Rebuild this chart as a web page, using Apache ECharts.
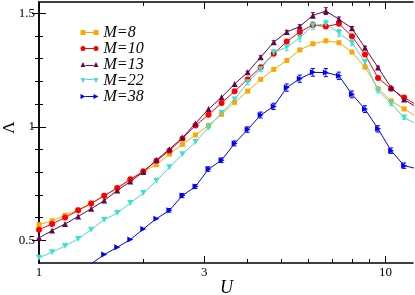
<!DOCTYPE html>
<html><head><meta charset="utf-8">
<script src="https://cdn.jsdelivr.net/npm/echarts@6/dist/echarts.min.js"></script>
<style>html,body{margin:0;padding:0;background:#fff}#c{width:415px;height:295px}</style>
</head><body><div id="c"></div>
<script>
const U = [1, 1.0905, 1.1892, 1.2968, 1.4142, 1.5422, 1.6818, 1.8340, 2, 2.1810, 2.3784, 2.5937, 2.8284, 3.0844, 3.3636, 3.6680, 4, 4.3620, 4.7568, 5.1874, 5.6569, 6.1688, 6.7272, 7.3360, 8, 8.7241, 9.5137, 10.3747, 11.3137, 12.3377];
const lamM8  = [0.569,0.586,0.610,0.633,0.664,0.696,0.730,0.766,0.803,0.833,0.880,0.923,0.964,1.006,1.055,1.108,1.157,1.209,1.253,1.292,1.339,1.366,1.379,1.371,1.329,1.263,1.168,1.114,1.079,1.043];
const lamM10 = [0.547,0.572,0.600,0.632,0.662,0.696,0.730,0.769,0.804,0.850,0.895,0.949,1.006,1.053,1.105,1.157,1.209,1.263,1.322,1.376,1.418,1.449,1.442,1.454,1.399,1.319,1.215,1.168,1.129,1.095];
const lamM13 = [0.511,0.543,0.572,0.605,0.639,0.675,0.719,0.759,0.801,0.854,0.901,0.952,1.015,1.078,1.130,1.189,1.240,1.307,1.373,1.418,1.442,1.491,1.510,1.474,1.434,1.348,1.261,1.173,1.120,1.085];
const lamM22 = [0.423,0.447,0.475,0.506,0.547,0.591,0.620,0.664,0.708,0.762,0.822,0.879,0.933,0.998,1.062,1.120,1.196,1.254,1.328,1.351,1.392,1.446,1.454,1.414,1.370,1.285,1.160,1.103,1.041,1.010];
const lamM38 = [null,null,null,null,0.396,0.437,0.469,0.503,0.550,0.595,0.632,0.697,0.737,0.814,0.853,0.927,0.988,1.052,1.090,1.173,1.212,1.240,1.239,1.225,1.143,1.078,0.991,0.895,0.829,0.815];
const errM13 = [0,0,0,0,0,0,0,0,0,0,0,0,0,0,0,0,0.005,0.006,0.006,0.007,0.008,0.012,0.015,0.010,0.008,0.007,0.006,0.005,0.005,0.005];
const errM22 = [0,0,0,0,0,0,0,0,0,0,0,0,0,0.008,0.009,0.010,0.010,0.011,0.012,0.015,0.015,0.017,0.016,0.015,0.012,0.012,0.010,0.009,0.008,0.008];
const errM38 = [0,0,0,0,0,0,0,0,0,0,0.008,0.009,0.009,0.010,0.010,0.011,0.012,0.013,0.014,0.016,0.016,0.017,0.018,0.016,0.015,0.015,0.014,0.012,0.012,0.012];
const names = ['M=8','M=10','M=13','M=22','M=38'];
const colors = ['#FFA500','#FF0000','#67074A','#40E0D0','#0000FF'];
const xMajorTicks = [1, 3, 10];
const xMinorTicks = [2, 4, 5, 6, 7, 8, 9];
const yMajorTicks = [0.5, 1, 1.5];
const yMinorTicks = [0.6, 0.7, 0.8, 0.9, 1.1, 1.2, 1.3, 1.4];
const xTitle = 'U', yTitle = 'Λ';
const xMin = 1, xMax = 12, yMin = 0.4, yMax = 1.55;

const chart = echarts.init(document.getElementById('c'), null, {renderer: 'canvas'});
const serif = 'Liberation Serif, Times New Roman, serif';
const lx = v => Math.log10(v);

function tickX(pos, vals, len, withLine, withLabel) {
  return {
    type: 'value', position: pos, min: lx(xMin), max: lx(xMax),
    axisLine: {show: withLine, lineStyle: {color: '#000', width: 1.5}},
    axisTick: {show: true, inside: true, length: len, customValues: vals.map(lx), lineStyle: {color: '#000', width: 1}},
    axisLabel: withLabel ? {show: true, customValues: vals.map(lx), formatter: v => String(Math.round(Math.pow(10, v))), fontFamily: serif, fontSize: 13, color: '#000', margin: 3} : {show: false},
    splitLine: {show: false}
  };
}
function tickY(pos, vals, len, withLine, withLabel) {
  return {
    type: 'value', position: pos, min: yMin, max: yMax,
    axisLine: {show: withLine, lineStyle: {color: '#000', width: 1.5}},
    axisTick: {show: true, inside: true, length: len, customValues: vals, lineStyle: {color: '#000', width: 1}},
    axisLabel: withLabel ? {show: true, customValues: vals, fontFamily: serif, fontSize: 13, color: '#000', margin: 4} : {show: false},
    splitLine: {show: false}
  };
}

const symbols = ['rect', 'circle', 'triangle', 'triangle', 'triangle'];
const rotates = [0, 0, 0, 180, -90];
const sizes = [5, 6, 6, 6, 6];
const vals = [lamM8, lamM10, lamM13, lamM22, lamM38];
const errs = [null, null, errM13, errM22, errM38];

const icons = [
  'path://M0,0h5v5h-5zM5,2h8v1h-8zM13,0h5v5h-5z',
  'path://M0,2.5a2.5,2.5 0 1,0 5,0a2.5,2.5 0 1,0 -5,0zM5,2h8v1h-8zM13,2.5a2.5,2.5 0 1,0 5,0a2.5,2.5 0 1,0 -5,0z',
  'path://M0,5L2.5,0L5,5zM5,3h8v1h-8zM13,5L15.5,0L18,5z',
  'path://M0,0L5,0L2.5,5zM5,1h8v1h-8zM13,0L18,0L15.5,5z',
  'path://M0,0L5,2.5L0,5zM5,2h8v1h-8zM13,0L18,2.5L13,5z'
];

const series = [];
names.forEach((n, i) => {
  const data = [];
  U.forEach((u, k) => { if (vals[i][k] != null) data.push([u, vals[i][k]]); });
  if (errs[i]) {
    const ed = [];
    U.forEach((u, k) => { if (vals[i][k] != null && errs[i][k] > 0) ed.push([u, vals[i][k], errs[i][k]]); });
    const col = colors[i];
    series.push({
      type: 'custom', name: 'err ' + n, xAxisIndex: 0, yAxisIndex: 0, clip: true, silent: true,
      data: ed, encode: {x: 0, y: 1}, z: 2,
      renderItem: (params, api) => {
        const u = api.value(0), v = api.value(1), e = api.value(2);
        const lo = api.coord([u, v - e]), hi = api.coord([u, v + e]);
        const w = 2;
        return {type: 'group', children: [
          {type: 'line', shape: {x1: lo[0], y1: lo[1], x2: hi[0], y2: hi[1]}, style: {stroke: col, lineWidth: 1}},
          {type: 'line', shape: {x1: lo[0] - w, y1: lo[1], x2: lo[0] + w, y2: lo[1]}, style: {stroke: col, lineWidth: 1}},
          {type: 'line', shape: {x1: hi[0] - w, y1: hi[1], x2: hi[0] + w, y2: hi[1]}, style: {stroke: col, lineWidth: 1}}
        ]};
      }
    });
  }
  series.push({
    type: 'line', name: n, xAxisIndex: 0, yAxisIndex: 0, data: data,
    symbol: symbols[i], symbolRotate: rotates[i], symbolSize: sizes[i], showAllSymbol: true,
    lineStyle: {color: colors[i], width: 1}, itemStyle: {color: colors[i]}, clip: true, z: 3
  });
});

chart.setOption({
  animation: false,
  backgroundColor: '#fff',
  grid: {left: 39, top: 2, width: 374, height: 261, containLabel: false, outerBoundsMode: 'none'},
  legend: {
    orient: 'vertical', left: 80.5, top: 24.5, padding: 0, itemGap: 0,
    itemWidth: 18, itemHeight: 5,
    textStyle: {fontFamily: serif, fontStyle: 'italic', fontSize: 16, color: '#000', lineHeight: 14.75},
    data: names.map((n, i) => ({name: n, icon: icons[i]})),
    selectedMode: false
  },
  graphic: [
    {type: 'text', x: 226.5, y: 288.5, silent: true,
     style: {text: xTitle, fill: '#000', font: 'italic 18px ' + serif, textAlign: 'center', textVerticalAlign: 'middle'}},
    {type: 'text', x: 9.5, y: 127.5, rotation: Math.PI / 2, silent: true,
     style: {text: yTitle, fill: '#000', font: '17px ' + serif, textAlign: 'center', textVerticalAlign: 'middle'}}
  ],
  xAxis: [
    {type: 'log', logBase: 10, min: xMin, max: xMax, show: false},
    tickX('bottom', xMajorTicks, 7, true, true),
    tickX('bottom', xMinorTicks, 4, false, false),
    tickX('top', xMajorTicks, 7, true, false),
    tickX('top', xMinorTicks, 4, false, false)
  ],
  yAxis: [
    tickY('left', yMajorTicks, 7, true, true),
    tickY('left', yMinorTicks, 4, false, false),
    tickY('right', yMajorTicks, 7, true, false),
    tickY('right', yMinorTicks, 4, false, false)
  ],
  series: series
});
</script>
</body></html>
